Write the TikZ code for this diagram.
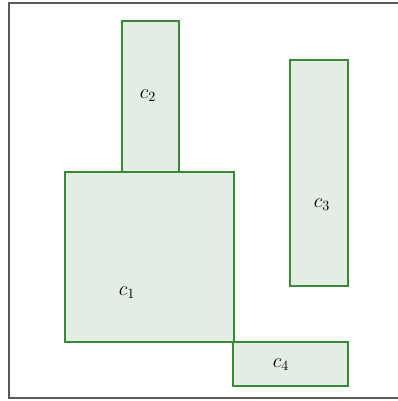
\documentclass[tikz,border=0pt]{standalone}
\usepackage{amsmath,amssymb}
\usepackage{xcolor}
\usepackage{tikz}
\usetikzlibrary{positioning}
\definecolor{cellgreen}{RGB}{56,138,56}
\definecolor{cellfill}{RGB}{227,237,227}
\definecolor{framegray}{RGB}{90,90,90}

\begin{document}
\begin{tikzpicture}[
    x=0.025cm, y=-0.025cm,
    cell/.style={draw=cellgreen, fill=cellfill, line width=1.1pt},
    frame/.style={draw=framegray, line width=1.4pt},
    lab/.style={font=\Large}
]
\useasboundingbox (0,0) rectangle (398,401);
\draw[frame] (399,3) -- (9,3) -- (9,398) -- (399,398);
% cells
\draw[cell] (122,21) rectangle (179,172);
\draw[cell] (65,172) rectangle (234,342);
\draw[cell] (290,60) rectangle (348,286);
\draw[cell] (233,342) rectangle (348,386);
\node[lab] (c2) at (148,96) {$c_2$};
\node[lab] (c1) at (127,293) {$c_1$};
\node[lab] (c3) at (322,205) {$c_3$};
\node[lab] (c4) at (281,365) {$c_4$};
\end{tikzpicture}
\end{document}
